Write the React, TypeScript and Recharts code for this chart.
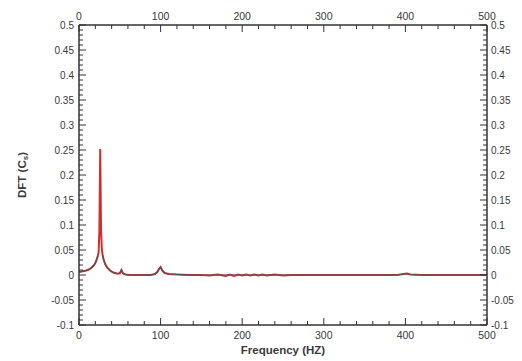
import React from "react";
import { LineChart, Line, XAxis, YAxis } from "recharts";

const freq = [0, 3, 6, 9, 12, 15, 18, 20, 22, 23, 24, 25, 26, 27, 28, 29, 30, 32, 35, 38, 42, 46, 50, 52, 54, 57, 62, 70, 80, 88, 93, 96, 98, 100, 102, 105, 110, 120, 135, 150, 160, 170, 180, 185, 190, 195, 200, 205, 210, 215, 220, 225, 230, 240, 250, 260, 280, 320, 360, 390, 398, 402, 406, 420, 460, 500];
const dftRed = [0.006, 0.007, 0.008, 0.009, 0.011, 0.014, 0.019, 0.024, 0.032, 0.038, 0.045, 0.09, 0.252, 0.09, 0.05, 0.04, 0.032, 0.022, 0.014, 0.009, 0.005, 0.003, 0.003, 0.01, 0.003, 0.001, 0, 0, 0, 0, 0.002, 0.006, 0.012, 0.016, 0.009, 0.004, 0.002, 0.001, 0, 0, -0.001, 0.001, -0.002, 0.001, -0.002, 0.001, -0.001, 0.001, -0.001, 0.001, -0.001, 0.001, -0.001, 0.001, -0.001, 0, 0, 0, 0, 0, 0.002, 0.003, 0.001, 0, 0, 0];
const dftDark = [0.006, 0.007, 0.008, 0.009, 0.011, 0.014, 0.019, 0.024, 0.032, 0.038, null, null, null, null, null, 0.04, 0.032, 0.022, 0.014, 0.009, 0.005, 0.003, 0.003, 0.01, 0.003, 0.001, 0, 0, 0, 0, 0.002, 0.006, 0.012, 0.016, 0.009, 0.004, 0.002, 0.001, 0, 0, 0, 0, 0, 0, 0, 0, 0, 0, 0, 0, 0, 0, 0, 0, 0, 0, 0, 0, 0, 0, 0.002, 0.003, 0.001, 0, 0, 0];

const xMajor = [0, 100, 200, 300, 400, 500];
const xMajorLabels = ["0", "100", "200", "300", "400", "500"];
const yMajor = [0.5, 0.45, 0.4, 0.35, 0.3, 0.25, 0.2, 0.15, 0.1, 0.05, 0, -0.05, -0.1];
const yMajorLabels = ["0.5", "0.45", "0.4", "0.35", "0.3", "0.25", "0.2", "0.15", "0.1", "0.05", "0", "-0.05", "-0.1"];

const xTicks: number[] = [];
for (let i = 0; i <= 25; i++) xTicks.push(i * 20);
const yTicks: number[] = [];
for (let i = -10; i <= 50; i++) yTicks.push(i / 100);

const data = freq.map((f, i) => ({ f, red: dftRed[i], dark: dftDark[i] }));

const FONT = "'Liberation Sans', Arial, sans-serif";
const TXT = "#3a3a3a";
const AX = "#333";

function majorIndex(arr: number[], v: number) {
  for (let i = 0; i < arr.length; i++) if (Math.abs(arr[i] - v) < 1e-6) return i;
  return -1;
}

const makeXTick = (side: "top" | "bottom") => (props: any) => {
  const { x, y, payload } = props;
  const v = payload.value;
  const mi = majorIndex(xMajor, v);
  const len = mi >= 0 ? 7 : 4;
  const dir = side === "top" ? 1 : -1;
  return (
    <g>
      <line x1={x} y1={y} x2={x} y2={y + dir * len} stroke={AX} strokeWidth={1} />
      {mi >= 0 ? (
        <text x={x} y={side === "top" ? y - 9 : y + 10} textAnchor="middle" dominantBaseline="central" fontSize={10.5} fontFamily={FONT} fill={TXT}>
          {xMajorLabels[mi]}
        </text>
      ) : null}
    </g>
  );
};

const makeYTick = (side: "left" | "right") => (props: any) => {
  const { x, y, payload } = props;
  const v = payload.value;
  const mi = majorIndex(yMajor, v);
  const len = mi >= 0 ? 7 : 4;
  const dir = side === "left" ? 1 : -1;
  return (
    <g>
      <line x1={x} y1={y} x2={x + dir * len} y2={y} stroke={AX} strokeWidth={1} />
      {mi >= 0 ? (
        <text x={side === "left" ? x - 5 : x + 4} y={y} textAnchor={side === "left" ? "end" : "start"} dominantBaseline="central" fontSize={10} fontFamily={FONT} fill={TXT}>
          {yMajorLabels[mi]}
        </text>
      ) : null}
    </g>
  );
};

export default function App() {
  return (
    <div style={{ width: 514, height: 345, background: "#fff" }}>
      <LineChart width={514} height={345} data={data} margin={{ top: 16, right: 34, bottom: 27, left: 70 }}>
        <XAxis
          xAxisId="bottom"
          dataKey="f"
          type="number"
          domain={[0, 500]}
          ticks={xTicks}
          interval={0}
          height={1}
          tickSize={0}
          tickMargin={0}
          tickLine={false}
          axisLine={{ stroke: AX, strokeWidth: 1.5 }}
          tick={makeXTick("bottom")}
          orientation="bottom"
        />
        <XAxis
          xAxisId="top"
          dataKey="f"
          type="number"
          domain={[0, 500]}
          ticks={xTicks}
          interval={0}
          height={1}
          tickSize={0}
          tickMargin={0}
          tickLine={false}
          axisLine={{ stroke: AX, strokeWidth: 1.5 }}
          tick={makeXTick("top")}
          orientation="top"
        />
        <YAxis
          yAxisId="left"
          type="number"
          domain={[-0.1, 0.5]}
          ticks={yTicks}
          interval={0}
          width={1}
          tickSize={0}
          tickMargin={0}
          tickLine={false}
          axisLine={{ stroke: AX, strokeWidth: 1.5 }}
          tick={makeYTick("left")}
          orientation="left"
          allowDataOverflow
        />
        <YAxis
          yAxisId="right"
          type="number"
          domain={[-0.1, 0.5]}
          ticks={yTicks}
          interval={0}
          width={1}
          tickSize={0}
          tickMargin={0}
          tickLine={false}
          axisLine={{ stroke: AX, strokeWidth: 1.5 }}
          tick={makeYTick("right")}
          orientation="right"
          allowDataOverflow
        />
        <Line xAxisId="top" yAxisId="right" type="linear" dataKey="red" stroke="#d0302c" strokeWidth={2} dot={false} isAnimationActive={false} />
        <Line xAxisId="bottom" yAxisId="left" type="linear" dataKey="dark" stroke="#555" strokeWidth={1.2} dot={false} isAnimationActive={false} connectNulls={false} />
      </LineChart>
      <svg width={522} height={361} style={{ position: "absolute", left: 0, top: 0, pointerEvents: "none" }}>
        <text x={283} y={350} textAnchor="middle" dominantBaseline="central" fontSize={11.5} fontWeight="bold" fontFamily={FONT} fill={TXT}>
          Frequency (HZ)
        </text>
        <text x={22} y={175} textAnchor="middle" dominantBaseline="central" fontSize={11.5} fontWeight="bold" fontFamily={FONT} fill={TXT} transform="rotate(-90 22 175)">
          DFT (C<tspan fontSize={8} dy={3}>s</tspan><tspan dy={-3}>)</tspan>
        </text>
      </svg>
    </div>
  );
}
